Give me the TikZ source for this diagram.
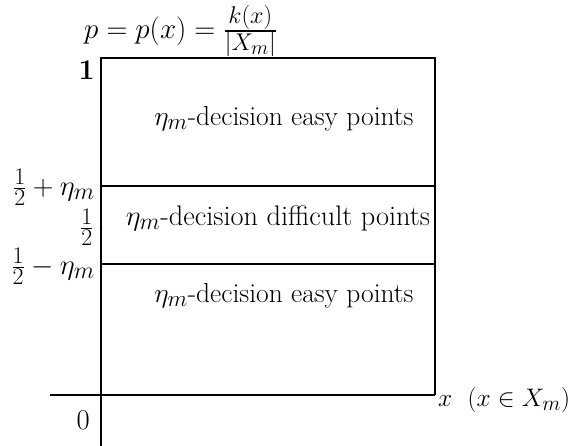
\documentclass[tikz,border=0pt]{standalone}
\usepackage{amsmath}
\begin{document}
\begin{tikzpicture}[x=1pt,y=-1pt,
  axis/.style={line width=1.3pt,black},
  base/.style={font=\fontsize{24.88}{30}\selectfont,inner sep=0pt},
  lab/.style={base,scale=1.105},
  tk/.style={base,anchor=east,scale=1.15}]
\useasboundingbox (0,0) rectangle (571,446);
% axes and box
\coordinate (O) at (101,395);
\coordinate (Ybot) at (101,446);
\coordinate (Ytop) at (101,58);
\coordinate (Xl) at (50,395);
\coordinate (TR) at (435,58);
\coordinate (BR) at (435,395);
\coordinate (Au) at (101,186);
\coordinate (Bu) at (435,186);
\coordinate (Al) at (101,264);
\coordinate (Bl) at (435,264);
\draw[axis] (Ybot) -- (Ytop) -- (TR) -- (BR);
\draw[axis] (Xl) -- (BR);
\draw[axis] (Au) -- (Bu);
\draw[axis] (Al) -- (Bl);
\fill (O) circle (1.8pt);
\fill (101,228) circle (1.3pt);
% tick labels
\node[tk] (one) at (95,70) {$\mathbf{1}$};
\node[tk] (hp) at (95,187) {$\frac12+\eta_m$};
\node[tk] (h) at (94,227) {$\frac12$};
\node[tk] (hm) at (95,266) {$\frac12-\eta_m$};
\node[tk] (zero) at (90,420) {$0$};
% title
\node[base,anchor=west,scale=1.166] (title) at (84,31) {$p=p(x)=\frac{k(x)}{|X_m|}$};
% x label
\node[base,anchor=west,scale=1.02] (xl) at (438,400) {$x\ \ (x\in X_m)$};
% region texts
\node[lab] (e1) at (284,119) {$\eta_m$-decision easy points};
\node[base,scale=1.137] (d) at (278,218) {$\eta_m$-decision difficult points};
\node[lab] (e2) at (284,296) {$\eta_m$-decision easy points};
\end{tikzpicture}
\end{document}
